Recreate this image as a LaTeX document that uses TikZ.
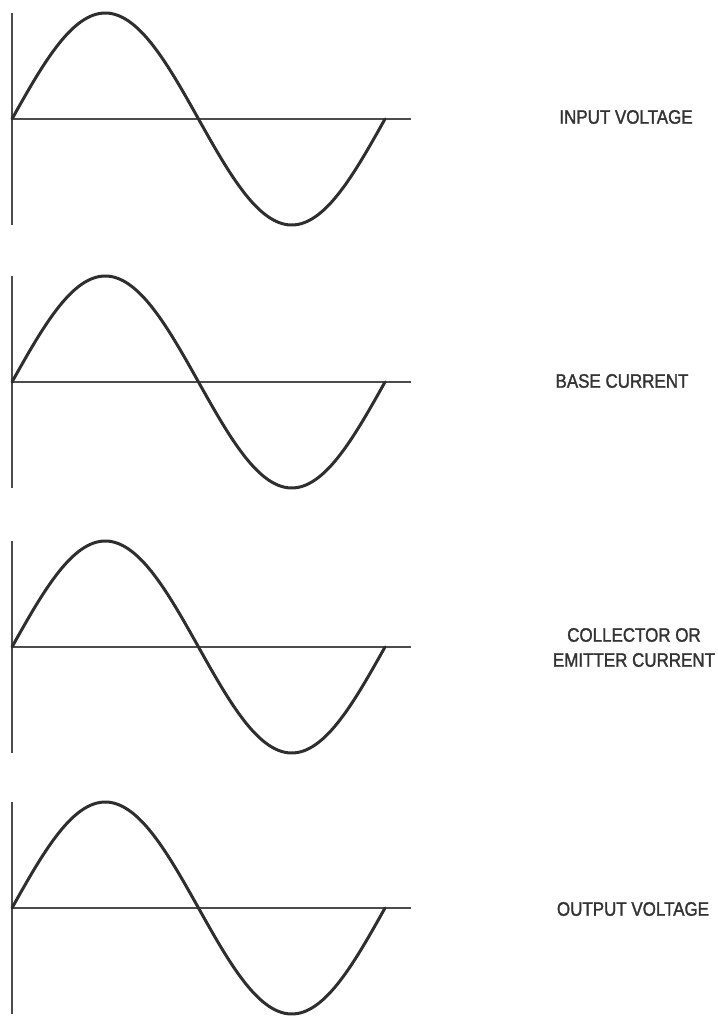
\documentclass[tikz,border=0pt]{standalone}
\usepackage{fontspec}
\newfontfamily\lblfont[FakeStretch=0.87,FakeBold=1.6]{Liberation Sans}
\begin{document}
\begin{tikzpicture}[x=1pt,y=-1pt,
  axisline/.style={line width=1.2pt, draw=black!70},
  wave/.style={line width=3pt, draw=black!82, line cap=round, line join=round},
  lbl/.style={font=\lblfont\fontsize{19.5}{25}\selectfont, text=black!80, align=center, inner sep=0pt}]
\useasboundingbox (0,0) rectangle (717,1016);
\foreach \yy in {119,382,647,908} {
  \draw[axisline] (12,\yy-106) -- (12,\yy+106);
  \draw[axisline] (12,\yy) -- (411,\yy);
  \draw[wave] plot[domain=0:360, samples=120, variable=\t, smooth] ({12+\t*1.0361}, {\yy-106*sin(\t)});
}
\node[lbl] (l1) at (626,117) {INPUT VOLTAGE};
\node[lbl] (l2) at (622,381) {BASE CURRENT};
\node[lbl] (l3) at (634,647.5) {COLLECTOR OR\\EMITTER CURRENT};
\node[lbl] (l4) at (633,909) {OUTPUT VOLTAGE};
\end{tikzpicture}
\end{document}
